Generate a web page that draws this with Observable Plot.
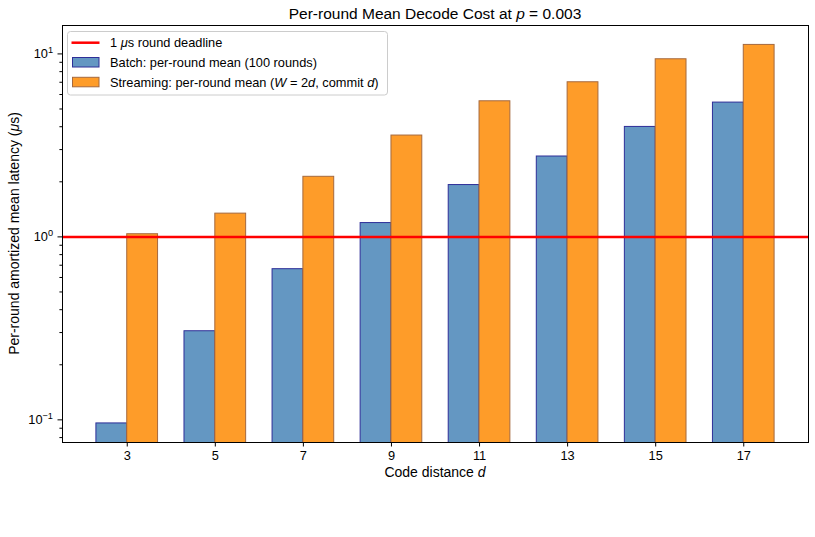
<!DOCTYPE html>
<html><head><meta charset="utf-8">
<script src="https://cdn.jsdelivr.net/npm/d3@7"></script>
<script src="https://cdn.jsdelivr.net/npm/@observablehq/plot@0.6"></script>
<style>
body{margin:0;background:#fff;font-family:"Liberation Sans",Arial,sans-serif}
#wrap{position:relative;width:815px;height:537px}
</style></head><body><div id="wrap"></div>
<script>
// ---- data ----
const distances = [3, 5, 7, 9, 11, 13, 15, 17];
const batchMean = [0.0956, 0.305, 0.666, 1.19, 1.92, 2.75, 3.99, 5.42];
const streamingMean = [1.034, 1.34, 2.13, 3.58, 5.51, 7.0, 9.35, 11.2];
const seriesKeys = ["Batch", "Streaming"];
const deadline = [1];
const yMajorTicks = [0.1, 1, 10];
const yMajorLabels = ["10^\u22121", "10^0", "10^1"];
const yMinorTicks = [0.08, 0.09, 0.2, 0.3, 0.4, 0.5, 0.6, 0.7, 0.8, 0.9, 2, 3, 4, 5, 6, 7, 8, 9];

// ---- styles ----
const fillColor = {Batch: "#6497c2", Streaming: "#fe9c29"};
const edgeColor = {Batch: "#2e2e98", Streaming: "#a5693e"};
const barWidth = 0.7;

const rows = [];
distances.forEach((d, i) => {
  rows.push({d, series: "Batch", value: batchMean[i]});
  rows.push({d, series: "Streaming", value: streamingMean[i]});
});

const chart = Plot.plot({
  width: 815, height: 537,
  marginTop: 25, marginLeft: 62, marginRight: 7, marginBottom: 95,
  style: {fontFamily: '"Liberation Sans", Arial, sans-serif', fontSize: "12.8px", color: "#000", background: "#fff"},
  x: {domain: [3 - 1.47, 17 + 1.47]},
  y: {type: "log", domain: [0.0752, 14.3]},
  marks: [
    Plot.rect(rows, {
      x1: r => r.series === "Batch" ? r.d - barWidth : r.d,
      x2: r => r.series === "Batch" ? r.d : r.d + barWidth,
      y1: () => 0.01, y2: "value",
      fill: r => fillColor[r.series], stroke: r => edgeColor[r.series],
      strokeWidth: 1, clip: true
    }),
    Plot.ruleY(deadline, {stroke: "#ff0000", strokeWidth: 2.5, clip: true}),
    Plot.frame({stroke: "#000", strokeWidth: 1}),
    Plot.axisX({ticks: distances, tickSize: 4.5, tickPadding: 4, tickFormat: d => String(d), label: null}),
    Plot.axisY({ticks: yMajorTicks, tickSize: 4.5, tickPadding: 5, tickFormat: v => yMajorLabels[yMajorTicks.indexOf(v)], label: null}),
    Plot.axisY({ticks: yMinorTicks, tickSize: 2.6, tickFormat: () => "", label: null})
  ]
});

const ns = "http://www.w3.org/2000/svg";
function el(tag, attrs, parent) {
  const e = document.createElementNS(ns, tag);
  for (const k in attrs) e.setAttribute(k, attrs[k]);
  if (parent) parent.appendChild(e);
  return e;
}
function richText(parent, attrs, parts) {
  const t = el("text", attrs, parent);
  parts.forEach(p => {
    const s = el("tspan", p.italic ? {"font-style": "italic"} : {}, t);
    s.textContent = p.text;
  });
  return t;
}

// tick label font size
chart.querySelectorAll('g[aria-label="x-axis tick label"], g[aria-label="y-axis tick label"]').forEach(gg => {
  gg.setAttribute("font-size", "12.8px");
  gg.style.fontSize = "12.8px";
});
// superscript exponents on y tick labels
chart.querySelectorAll('g[aria-label="y-axis tick label"] text').forEach(t => {
  const s = t.textContent;
  if (!s.includes("^")) return;
  const [b, e] = s.split("^");
  t.textContent = "";
  const t1 = el("tspan", {}, t); t1.textContent = b;
  const t2 = el("tspan", {dy: "-0.55em", "font-size": "0.72em"}, t); t2.textContent = e;
});

const svg = chart.tagName.toLowerCase() === "svg" ? chart : chart.querySelector("svg");
const g = el("g", {"font-family": '"Liberation Sans", Arial, sans-serif', fill: "#000"}, svg);

// title
richText(g, {x: 435, y: 18.5, "text-anchor": "middle", "font-size": "15.5px"},
  [{text: "Per-round Mean Decode Cost at "}, {text: "p", italic: true}, {text: " = 0.003"}]);
// x label
richText(g, {x: 435, y: 477, "text-anchor": "middle", "font-size": "14px"},
  [{text: "Code distance "}, {text: "d", italic: true}]);
// y label
richText(g, {x: 0, y: 0, transform: "translate(19,233.5) rotate(-90)", "text-anchor": "middle", "font-size": "14px"},
  [{text: "Per-round amortized mean latency ("}, {text: "\u03bc", italic: true}, {text: "s)"}]);

// legend
const lg = el("g", {"text-anchor": "start"}, g);
el("rect", {x: 67.5, y: 31.5, width: 320, height: 63.5, rx: 3, fill: "#fff", "fill-opacity": 0.8, stroke: "#cccccc", "stroke-width": 1}, lg);
el("line", {x1: 71.5, x2: 99.5, y1: 42.7, y2: 42.7, stroke: "#ff0000", "stroke-width": 2.5}, lg);
richText(lg, {x: 110, y: 47, "text-anchor": "start", "font-size": "12.8px"}, [{text: "1 "}, {text: "\u03bc", italic: true}, {text: "s round deadline"}]);
el("rect", {x: 72.5, y: 57.5, width: 26.5, height: 9.5, fill: fillColor.Batch, stroke: edgeColor.Batch, "stroke-width": 1}, lg);
richText(lg, {x: 110, y: 66.7, "text-anchor": "start", "font-size": "12.8px"}, [{text: "Batch: per-round mean (100 rounds)"}]);
el("rect", {x: 72.5, y: 77.3, width: 26.5, height: 9.5, fill: fillColor.Streaming, stroke: edgeColor.Streaming, "stroke-width": 1}, lg);
richText(lg, {x: 110, y: 86.5, "text-anchor": "start", "font-size": "12.8px"},
  [{text: "Streaming: per-round mean ("}, {text: "W", italic: true}, {text: " = 2"}, {text: "d", italic: true}, {text: ", commit "}, {text: "d", italic: true}, {text: ")"}]);

document.getElementById("wrap").appendChild(chart);
</script>
</body></html>
